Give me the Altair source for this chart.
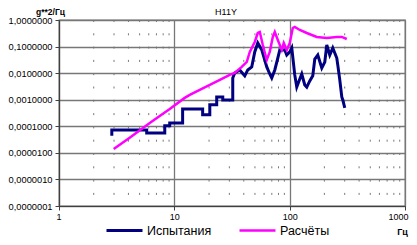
import altair as alt
import pandas as pd

series_names = ["Испытания", "Расчёты"]
series_colors = ["#000080", "#FF00FF"]
series_widths = [3, 2.5]

# Испытания (test) - stepped PSD, g^2/Hz vs Hz
test_freq = [2.87, 2.87, 5.76, 5.76, 8.26, 8.26, 9.12, 9.12, 11.8, 11.8,
             17.6, 17.6, 20.3, 20.3, 23.3, 23.3, 26.3, 26.3, 32.1, 32.1,
             33.4, 36.9, 40.8, 43.3, 46.9, 49.8, 52.9, 57.3, 63.3, 67.2,
             69.9, 74.3, 78.9, 82.1, 90.7, 94.4, 100.2, 104.3, 110.7, 115.2,
             122.4, 127.3, 135.2, 140.7, 149.4, 158.6, 165.1, 175.3, 189.9, 201.6,
             209.8, 222.7, 236.5, 256.2, 261.4, 272.0, 283.1, 288.8, 300.5]
test_psd = [4.4e-5, 7.3e-5, 7.3e-5, 5.6e-5, 5.6e-5, 1.04e-4, 1.04e-4, 1.34e-4, 1.34e-4, 4.5e-4,
            4.5e-4, 2.7e-4, 2.7e-4, 6.4e-4, 6.4e-4, 1.27e-3, 1.27e-3, 9.8e-4, 9.8e-4, 6.6e-3,
            1.02e-2, 1.32e-2, 7.9e-3, 1.32e-2, 1.71e-2, 6.3e-2, 0.137, 0.075, 0.0171, 9.3e-3,
            6.6e-3, 0.0132, 0.037, 0.075, 0.075, 0.048, 0.063, 0.089, 8.6e-3, 3.0e-3,
            6.0e-3, 9.3e-3, 3.6e-3, 3.0e-3, 5.1e-3, 7.9e-3, 0.034, 0.048, 0.0157, 0.026,
            0.115, 0.048, 0.089, 0.037, 0.020, 5.6e-3, 1.27e-3, 9.8e-4, 4.9e-4]

# Расчёты (calculation)
calc_freq = [2.98, 4.10, 6.12, 9.12, 12.3, 13.6, 16.6, 20.3, 24.8, 30.2,
             33.4, 38.4, 42.5, 45.1, 49.8, 52.9, 55.1, 58.5, 63.3, 67.2,
             71.4, 74.3, 78.9, 85.4, 88.9, 94.4, 100.2, 106.4, 110.7, 122.4,
             140.7, 171.8, 209.8, 256.2, 283.1, 312.7]
calc_psd = [1.4e-5, 3.7e-5, 1.34e-4, 4.5e-4, 1.17e-3, 1.52e-3, 2.34e-3, 3.6e-3, 5.55e-3, 8.55e-3,
            1.02e-2, 1.71e-2, 2.64e-2, 6.26e-2, 0.149, 0.324, 0.354, 0.115, 0.0313, 0.0626,
            0.230, 0.354, 0.177, 0.0745, 0.137, 0.0745, 0.137, 0.50, 0.545, 0.421,
            0.324, 0.230, 0.210, 0.230, 0.230, 0.193]

x_ticks = [1, 10, 100, 1000]
y_ticks = [1e-7, 1e-6, 1e-5, 1e-4, 1e-3, 1e-2, 1e-1, 1]
minor_x = [m * d for d in (1, 10, 100) for m in range(2, 10)]

rows = []
for i, (f, v) in enumerate(zip(test_freq, test_psd)):
    rows.append({"f": f, "v": v, "series": series_names[0], "i": i})
for i, (f, v) in enumerate(zip(calc_freq, calc_psd)):
    rows.append({"f": f, "v": v, "series": series_names[1], "i": i})
df = pd.DataFrame(rows)

FONT = "Liberation Sans"
GRID = "#777777"
AXIS = "#404040"
W, H = 346, 186

xscale = alt.Scale(type="log", domain=[1, 1000])
yscale = alt.Scale(type="log", domain=[1e-7, 1])

x_axis = alt.Axis(
    values=x_ticks, format="d", grid=True, gridColor=GRID, gridWidth=1.3,
    domain=True, domainColor=AXIS, domainWidth=1.2,
    ticks=True, tickColor=AXIS, tickSize=4,
    labelFont=FONT, labelFontSize=9, labelColor="black", labelPadding=2,
    labelFlush=True, labelFlushOffset=3, labelOverlap=False,
    title="Гц", titleFont=FONT, titleFontSize=9, titleFontWeight="bold",
    titleColor="black", titleX=343, titleY=28, titleAlign="center",
    titleBaseline="alphabetic", titleAngle=0)

y_axis = alt.Axis(
    values=y_ticks, labelExpr="replace(format(datum.value, '.7f'), '.', ',')",
    grid=True, gridColor=GRID, gridWidth=1.3,
    domain=True, domainColor=AXIS, domainWidth=1.2,
    ticks=True, tickColor=AXIS, tickSize=4,
    labelFont=FONT, labelFontSize=9.3, labelColor="black", labelPadding=3,
    labelFlush=False, labelOverlap=False,
    title="g**2/Гц", titleFont=FONT, titleFontSize=8.5, titleFontWeight="bold",
    titleColor="black", titleAngle=0, titleX=-9, titleY=-6,
    titleAlign="center", titleBaseline="alphabetic")

minor = alt.Chart(pd.DataFrame({"f": minor_x})).mark_rule(
    color=GRID, strokeWidth=1, strokeDash=[2, 11.3]
).encode(x=alt.X("f:Q", scale=xscale, axis=x_axis, title="Гц"))

lines = alt.Chart(df).mark_line(clip=True).encode(
    x=alt.X("f:Q", scale=xscale, axis=x_axis, title="Гц"),
    y=alt.Y("v:Q", scale=yscale, axis=y_axis, title="g**2/Гц"),
    color=alt.Color("series:N", scale=alt.Scale(domain=series_names, range=series_colors),
                    legend=alt.Legend(orient="none", legendX=46, legendY=191,
                                      direction="horizontal", title=None,
                                      symbolType="stroke", symbolSize=1296,
                                      symbolStrokeWidth=3, labelFont=FONT,
                                      labelFontSize=12.5, labelColor="black",
                                      labelOffset=3, columnPadding=22, padding=0)),
    strokeWidth=alt.StrokeWidth("series:N", scale=alt.Scale(domain=series_names, range=series_widths),
                                legend=None),
    order="i:Q",
)

chart = alt.layer(minor, lines).properties(
    width=W, height=H,
    title=alt.TitleParams("H11Y", font=FONT, fontSize=9, fontWeight="normal",
                          color="black", dx=-6, dy=14, offset=4, frame="group"),
    autosize=alt.AutoSizeParams(type="none"),
    padding={"left": 51, "top": 12, "right": 4, "bottom": 31},
).configure_view(stroke=GRID, strokeWidth=1.3)

chart.save("out.html", embed_options={"renderer": "svg", "actions": False})
